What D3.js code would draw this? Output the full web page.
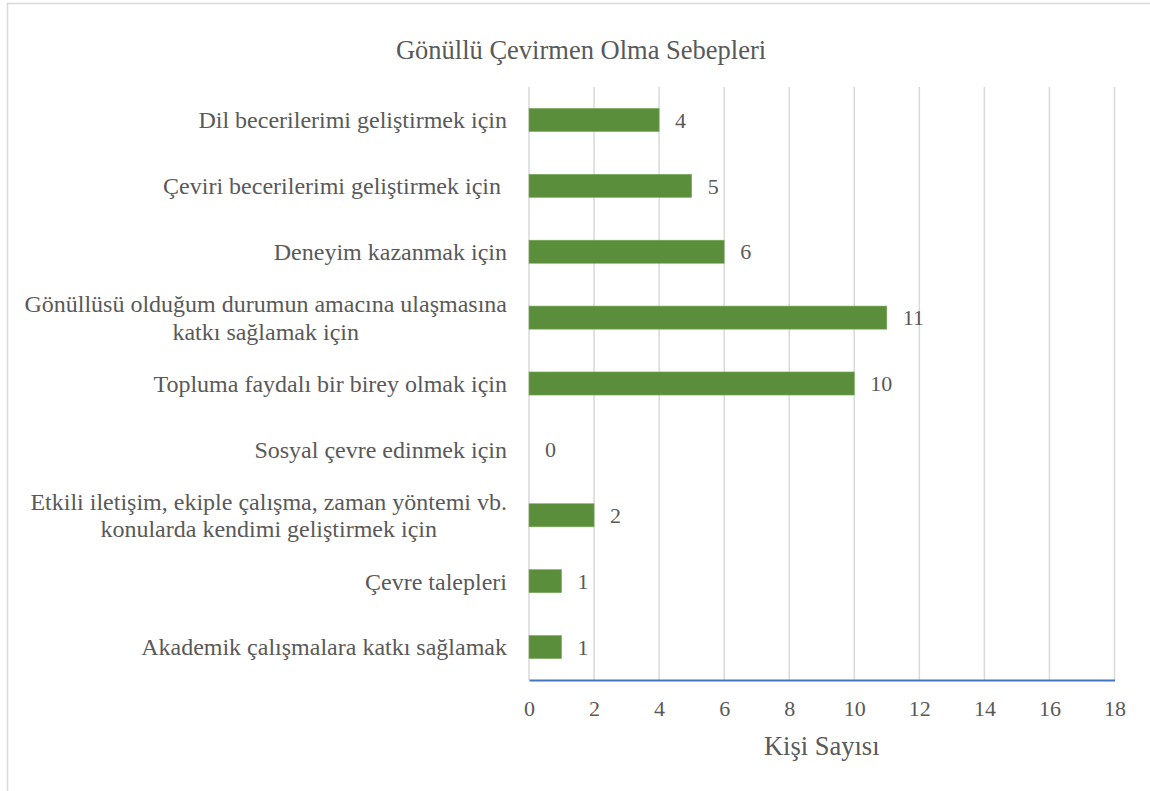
<!DOCTYPE html>
<html>
<head>
<meta charset="utf-8">
<script src="https://cdn.jsdelivr.net/npm/d3@7"></script>
<style>
  html, body { margin: 0; padding: 0; background: #fff; }
  svg { display: block; }
</style>
</head>
<body>
<svg id="chart" width="1150" height="791"></svg>
<script>
// Reasons for becoming a volunteer translator (number of people)
const categories = [
  ["Dil becerilerimi geliştirmek için"],
  ["Çeviri becerilerimi geliştirmek için "],
  ["Deneyim kazanmak için"],
  ["Gönüllüsü olduğum durumun amacına ulaşmasına", "katkı sağlamak için"],
  ["Topluma faydalı bir birey olmak için"],
  ["Sosyal çevre edinmek için"],
  ["Etkili iletişim, ekiple çalışma, zaman yöntemi vb.", "konularda kendimi geliştirmek için"],
  ["Çevre talepleri"],
  ["Akademik çalışmalara katkı sağlamak"]
];
const values = [4, 5, 6, 11, 10, 0, 2, 1, 1];
const xTicks = [0, 2, 4, 6, 8, 10, 12, 14, 16, 18];
const chartTitle = "Gönüllü Çevirmen Olma Sebepleri";
const xAxisTitle = "Kişi Sayısı";

const FONT = "Liberation Serif";
const svg = d3.select("#chart");
const textColor = "#595959";
const plot = { left: 529, right: 1114.5, top: 87, bottom: 680 };

// outer chart frame
svg.append("rect")
  .attr("x", 7.5).attr("y", 3.5)
  .attr("width", 1160).attr("height", 800)
  .attr("fill", "#fff").attr("stroke", "#d9d9d9").attr("stroke-width", 1.5);

const x = d3.scaleLinear().domain([0, 18]).range([plot.left, plot.right]);
const y = d3.scaleBand()
  .domain(d3.range(categories.length))
  .range([plot.top, plot.bottom])
  .paddingInner(0.65).paddingOuter(0.325);

// vertical gridlines
svg.append("g").selectAll("line")
  .data(xTicks)
  .join("line")
  .attr("x1", d => x(d)).attr("x2", d => x(d))
  .attr("y1", plot.top).attr("y2", plot.bottom)
  .attr("stroke", "#d9d9d9").attr("stroke-width", 1.5);

// bars
svg.append("g").selectAll("rect")
  .data(values)
  .join("rect")
  .attr("x", x(0))
  .attr("y", (d, i) => y(i))
  .attr("width", d => x(d) - x(0))
  .attr("height", y.bandwidth())
  .attr("fill", "#5b8e3a")
  .attr("stroke", "#7aa85c").attr("stroke-width", 0.6);

// value labels
svg.append("g").selectAll("text")
  .data(values)
  .join("text")
  .attr("x", d => x(d) + 16)
  .attr("y", (d, i) => y(i) + y.bandwidth() / 2)
  .attr("dy", "0.35em")
  .attr("font-family", FONT)
  .attr("font-size", 22)
  .attr("fill", textColor)
  .text(d => d);

// x axis
const xAxis = svg.append("g")
  .attr("transform", `translate(0,${plot.bottom})`)
  .call(d3.axisBottom(x).tickValues(xTicks).tickSize(0).tickPadding(20));
xAxis.attr("font-family", FONT);
xAxis.select(".domain").attr("stroke", "#4472c4").attr("stroke-width", 2);
xAxis.selectAll("text")
  .attr("font-family", FONT)
  .attr("font-size", 22).attr("fill", textColor);

svg.append("text")
  .attr("x", (plot.left + plot.right) / 2).attr("y", 746)
  .attr("dy", "0.35em").attr("text-anchor", "middle")
  .attr("font-family", FONT)
  .attr("font-size", 26.5).attr("fill", textColor)
  .text(xAxisTitle);

// category labels: multi-line blocks are centred, block right-aligned to the axis
const labelRight = 507;
const lineGap = 27.5;
const catG = svg.append("g");
categories.forEach((lines, i) => {
  const cy = y(i) + y.bandwidth() / 2;
  const g = catG.append("g");
  const texts = lines.map((ln, j) => g.append("text")
    .attr("y", cy + (j - (lines.length - 1) / 2) * lineGap)
    .attr("dy", "0.35em")
    .attr("font-family", FONT)
    .attr("font-size", 24)
    .attr("fill", textColor)
    .style("white-space", "pre")
    .attr("text-anchor", "middle")
    .text(ln));
  const w = d3.max(texts, t => t.node().getComputedTextLength());
  texts.forEach(t => t.attr("x", labelRight - w / 2));
});

// title
svg.append("text")
  .attr("x", 581).attr("y", 50)
  .attr("dy", "0.35em").attr("text-anchor", "middle")
  .attr("font-family", FONT)
  .attr("font-size", 26.5).attr("fill", textColor)
  .text(chartTitle);
</script>
</body>
</html>
